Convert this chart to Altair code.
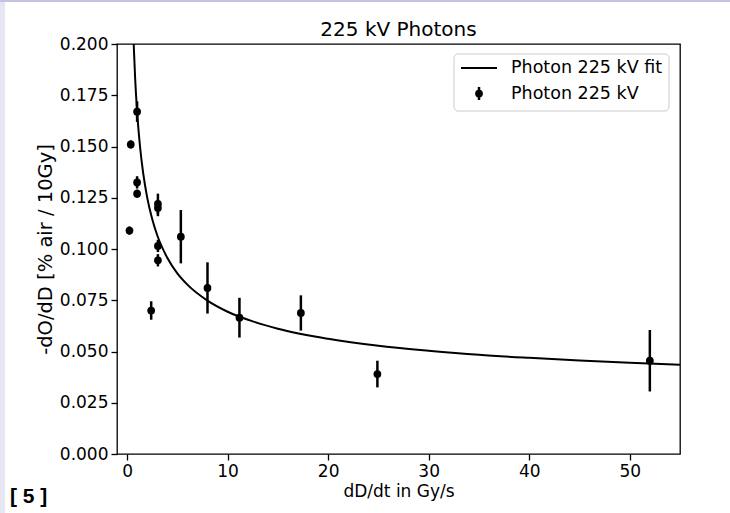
import altair as alt
import pandas as pd

# ---- data ----
rate = [0.24, 0.37, 1.0, 1.0, 1.0, 2.4, 3.07, 3.07, 3.07, 3.07, 5.35, 8.0, 11.18, 17.29, 24.9, 52.0]
value = [0.109, 0.151, 0.167, 0.1325, 0.127, 0.070, 0.122, 0.120, 0.1015, 0.0945, 0.106, 0.081, 0.0665, 0.0688, 0.039, 0.0455]
error = [0.002, 0.002, 0.005, 0.003, 0.002, 0.0045, 0.005, 0.004, 0.003, 0.003, 0.013, 0.0125, 0.0097, 0.0086, 0.0065, 0.015]

fit_rate = [0.66, 0.8, 1.0, 1.3, 1.6, 2.0, 2.5, 3.0, 4.0, 5.0, 6.0, 8.0, 10.0, 12.5, 15.0, 20.0, 25.0, 30.0, 35.0, 40.0, 45.0, 50.0, 55.0]
fit_value = [0.2000, 0.1838, 0.1670, 0.1495, 0.1371, 0.1252, 0.1146, 0.1067, 0.0957, 0.0881, 0.0826, 0.0748, 0.0694, 0.0647, 0.0611, 0.0562, 0.0528, 0.0504, 0.0484, 0.0469, 0.0456, 0.0445, 0.0435]

x_ticks = [0, 10, 20, 30, 40, 50]
y_ticks = [0.0, 0.025, 0.05, 0.075, 0.1, 0.125, 0.15, 0.175, 0.2]

legend_labels = ["Photon 225 kV fit", "Photon 225 kV"]
title_text = "225 kV Photons"
x_title = "dD/dt in Gy/s"
y_title = "-dO/dD [% air / 10Gy]"
ref_label = "[ 5 ]"

FONT = "DejaVu Sans"

pts = pd.DataFrame({
    "rate": rate,
    "value": value,
    "lo": [v - e for v, e in zip(value, error)],
    "hi": [v + e for v, e in zip(value, error)],
})
fit = pd.DataFrame({"rate": fit_rate, "value": fit_value})
one = pd.DataFrame({"a": [0]})

xs = alt.Scale(domain=[-1, 55], nice=False, zero=False)
ys = alt.Scale(domain=[0, 0.2], nice=False, zero=False)

xax = alt.Axis(values=x_ticks, title=x_title, format="d", grid=False)
yax = alt.Axis(values=y_ticks, title=y_title, format=".3f", grid=False, titleFontSize=19.5)

fit_line = alt.Chart(fit).mark_line(color="black", strokeWidth=2, clip=True, interpolate="monotone").encode(
    x=alt.X("rate:Q", scale=xs, axis=xax),
    y=alt.Y("value:Q", scale=ys, axis=yax),
)

bars = alt.Chart(pts).mark_rule(color="black", strokeWidth=2.5).encode(
    x=alt.X("rate:Q", scale=xs),
    y=alt.Y("lo:Q", scale=ys),
    y2="hi:Q",
)

dots = alt.Chart(pts).mark_circle(color="black", size=60, opacity=1).encode(
    x=alt.X("rate:Q", scale=xs),
    y=alt.Y("value:Q", scale=ys),
)

# decorative page strips
left_strip = alt.Chart(one).mark_rect(color="#e6e6f2").encode(
    x=alt.value(-117), x2=alt.value(-112), y=alt.value(-44), y2=alt.value(469))
top_strip = alt.Chart(one).mark_rect(color="#c4c4e0").encode(
    x=alt.value(-117), x2=alt.value(613), y=alt.value(-44), y2=alt.value(-42))

ref_text = alt.Chart(one).mark_text(text=ref_label, font="Liberation Sans", fontSize=21, fontWeight="bold",
                                    align="left", baseline="middle", color="black").encode(
    x=alt.value(-107), y=alt.value(453))

title_mark = alt.Chart(one).mark_text(text=title_text, font=FONT, fontSize=20, align="center",
                                      baseline="middle", color="black").encode(
    x=alt.value(281.5), y=alt.value(-14))

# legend
leg_box = alt.Chart(one).mark_rect(fill="white", fillOpacity=0.8, stroke="#cccccc", strokeWidth=1, cornerRadius=4).encode(
    x=alt.value(337), x2=alt.value(552), y=alt.value(10), y2=alt.value(67))
leg_line = alt.Chart(one).mark_rule(color="black", strokeWidth=2).encode(
    x=alt.value(344), x2=alt.value(380), y=alt.value(24))
leg_bar = alt.Chart(one).mark_rule(color="black", strokeWidth=2.5).encode(
    x=alt.value(362), y=alt.value(43), y2=alt.value(56))
leg_dot = alt.Chart(one).mark_circle(color="black", size=60, opacity=1).encode(
    x=alt.value(362), y=alt.value(49.5))
leg_t1 = alt.Chart(one).mark_text(text=legend_labels[0], font=FONT, fontSize=17.5, align="left", baseline="middle", color="black").encode(
    x=alt.value(394), y=alt.value(24))
leg_t2 = alt.Chart(one).mark_text(text=legend_labels[1], font=FONT, fontSize=17.5, align="left", baseline="middle", color="black").encode(
    x=alt.value(394), y=alt.value(49.5))

chart = alt.layer(
    left_strip, top_strip, ref_text, title_mark,
    fit_line, bars, dots,
    leg_box, leg_line, leg_bar, leg_dot, leg_t1, leg_t2,
).properties(
    width=563, height=410,
    autosize=alt.AutoSizeParams(type="none"),
    padding={"left": 117, "top": 44, "right": 50, "bottom": 59},
    background="white",
).configure_view(
    stroke="black", strokeWidth=1.3
).configure_axis(
    domain=False,
    tickColor="black", tickSize=6, tickWidth=1.3,
    labelFont=FONT, labelFontSize=17, labelColor="black", labelPadding=3,
    titleFont=FONT, titleFontSize=17, titleFontWeight="normal", titleColor="black",
)

chart.save("out.html", embed_options={"renderer": "svg", "actions": False})
